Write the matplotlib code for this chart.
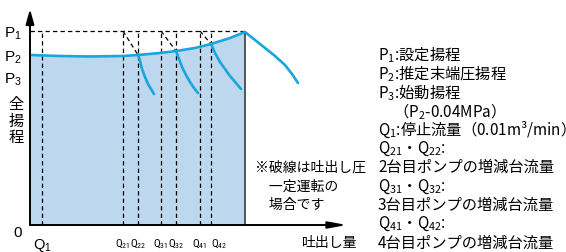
"""
Pump head vs discharge diagram (pressure-constant operation).
Units are arbitrary: read off the reference drawing.
"""
import matplotlib
matplotlib.use("Agg")
import matplotlib.pyplot as plt
import numpy as np
from matplotlib import font_manager

# math parts ($_1$ subscripts) use the text's own font
plt.rcParams["mathtext.default"] = "regular"

LAT = ["Liberation Sans", "DejaVu Sans"]
CJK = ["Noto Sans CJK JP"]

# narrow face for the crowded Q ticks, if one is installed
_names = {f.name for f in font_manager.fontManager.ttflist}
NARROW = next((n for n in ["Liberation Sans Narrow", "Roboto Condensed", "Arial Narrow"]
               if n in _names), None)
_dv_cond = any(f.name == "DejaVu Sans" and f.stretch == "condensed"
               for f in font_manager.fontManager.ttflist)

# --- data (arbitrary units) ---
P_VALUES = [194, 170, 148, 0]
P_LABELS = ["P$_1$", "P$_2$", "P$_3$", "0"]

Q_VALUES = [12, 93, 108, 131, 146, 170, 181]
Q_LABELS = ["Q$_1$", "Q$_{21}$", "Q$_{22}$", "Q$_{31}$", "Q$_{32}$", "Q$_{41}$", "Q$_{42}$"]
Q_MAX = 215

# system curve (single pump -> peak at P1 -> tail)
curve_q = [0, 30, 60, 93, 108, 130, 146, 165, 181, 200, 215,
           225, 235, 245, 255, 262, 268]
curve_h = [170, 169, 168.5, 169, 170, 172, 174, 177, 181, 187, 193,
           185, 177, 169, 160, 151, 142]

# branch curves where a pump is added (start at Q22, Q32, Q42)
branch_q = [
    [108, 110, 112, 115, 118, 121, 124],
    [146, 149, 152, 156, 160, 164, 168],
    [181, 185, 190, 195, 200, 206, 211],
]
branch_h = [
    [171, 164, 156, 148, 141, 136, 131],
    [174, 166, 158, 150, 143, 137, 132],
    [181, 172, 163, 156, 149, 142, 136],
]

# dashed constant-pressure lines: (Q on P1 line) -> (Q on curve)
diag_from = [93, 131, 170]
diag_to = [108, 146, 181]
diag_to_h = [170, 174, 181]

NOTE = ["※破線は吐出し圧", "　一定運転の", "　場合です"]
LEGEND = [
    "P$_1$:設定揚程",
    "P$_2$:推定末端圧揚程",
    "P$_3$:始動揚程",
    "　（P$_2$-0.04MPa）",
    "Q$_1$:停止流量（0.01m³/min）",
    "Q$_{21}$・Q$_{22}$:",
    "2台目ポンプの増減台流量",
    "Q$_{31}$・Q$_{32}$:",
    "3台目ポンプの増減台流量",
    "Q$_{41}$・Q$_{42}$:",
    "4台目ポンプの増減台流量",
]

BLUE = "#19a5de"
FILL = "#bdd7ee"

W, H = 566, 253
X0, Y0 = 30, 27  # axis origin in pixels from left/bottom

fig = plt.figure(figsize=(W / 100, H / 100), dpi=100)
ax = fig.add_axes([X0 / W, Y0 / H, 1 - X0 / W, 1 - Y0 / H])
ax.set_xlim(0, W - X0)
ax.set_ylim(0, H - Y0)
for s in ax.spines.values():
    s.set_visible(False)

# shaded operating area
cq = np.array(curve_q)
ch = np.array(curve_h)
m = cq <= Q_MAX
ax.fill_between(cq[m], 0, ch[m], color=FILL, lw=0, zorder=1)
ax.plot([Q_MAX, Q_MAX], [0, ch[m][-1]], color="#555555", lw=1.4, zorder=2)

# dashed guides
dash = dict(color="black", lw=0.9, ls=(0, (3.5, 2.5)), zorder=3)
ax.plot([0, Q_MAX], [P_VALUES[0], P_VALUES[0]], **dash)
for q in Q_VALUES:
    ax.plot([q, q], [0, P_VALUES[0]], **dash)
for qa, qb, hb in zip(diag_from, diag_to, diag_to_h):
    ax.plot([qa, qb], [P_VALUES[0], hb], **dash)

# curves
ax.plot(curve_q, curve_h, color=BLUE, lw=1.9, solid_capstyle="round", zorder=4)
for bq, bh in zip(branch_q, branch_h):
    ax.plot(bq, bh, color=BLUE, lw=1.9, solid_capstyle="round", zorder=4)

# axes with arrows
ax.annotate("", xy=(0, 216), xytext=(0, 0),
            arrowprops=dict(arrowstyle="-|>,head_length=0.9,head_width=0.25",
                            color="black", lw=1.4, shrinkA=0, shrinkB=0), zorder=5)
ax.annotate("", xy=(317, 0), xytext=(0, 0),
            arrowprops=dict(arrowstyle="-|>,head_length=1.1,head_width=0.2",
                            color="black", lw=1.4, shrinkA=0, shrinkB=0), zorder=5)

# ticks
ax.set_yticks(P_VALUES)
ax.set_yticklabels(P_LABELS, family=LAT, fontsize=11)
ax.set_xticks(Q_VALUES)
ax.set_xticklabels(Q_LABELS, family=LAT, fontsize=10.5)
for lab in ax.xaxis.get_ticklabels()[1:]:
    if NARROW:
        lab.set_family([NARROW] + LAT)
        lab.set_fontsize(8)
    elif _dv_cond:
        lab.set_family(["DejaVu Sans"])
        lab.set_stretch("condensed")
        lab.set_fontsize(7.2)
    else:
        lab.set_fontsize(7.2)
# Q42 sits close to Q41: hang it to the right of its line
ax.xaxis.get_ticklabels()[-1].set_ha("left")
ax.tick_params(length=0)
ax.tick_params(axis="y", pad=6)
ax.tick_params(axis="x", pad=8)
ax.yaxis.get_ticklabels()[-1].set_va("top")

# axis titles
ax.text(-14, 105, "全\n揚\n程", family=CJK, fontsize=11, ha="center", va="center",
        linespacing=0.95)
ax.text(300, -17, "吐出し量", family=CJK, fontsize=10, ha="center", va="center")

# note
for i, line in enumerate(NOTE):
    ax.text(225, 58 - i * 18.5, line, family=CJK, fontsize=10, ha="left", va="center")

# legend text
for i, line in enumerate(LEGEND):
    ax.text(348, 171 - i * 18.8, line, family=CJK, fontsize=11, ha="left", va="center")

fig.savefig("out.png", dpi=100)
